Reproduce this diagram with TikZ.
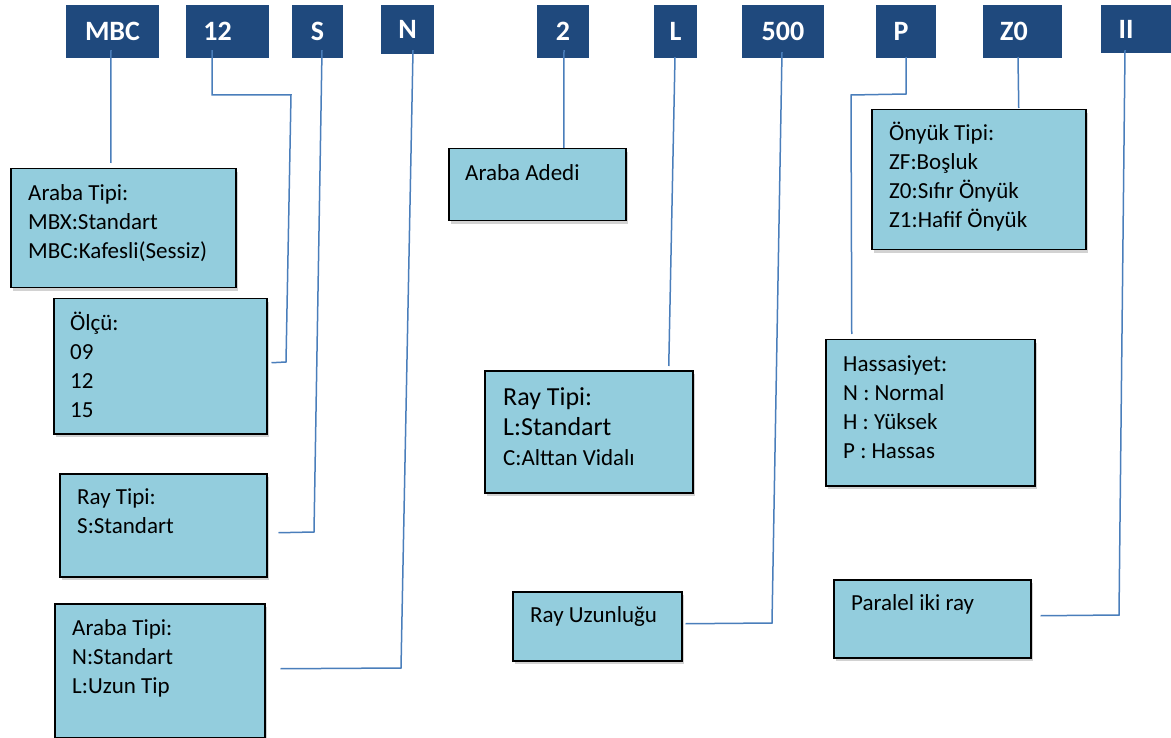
\documentclass[tikz,border=0pt]{standalone}
\usepackage{fontspec}
\setmainfont{Carlito}
\usetikzlibrary{shadows}

\definecolor{hdrblue}{RGB}{31,73,125}
\definecolor{boxblue}{RGB}{147,205,221}
\definecolor{wireblue}{RGB}{74,126,187}

\begin{document}
\begin{tikzpicture}[x=1pt,y=-1pt,
  hdr/.style={fill=hdrblue,text=white,font=\fontsize{28}{30}\selectfont\bfseries,minimum height=53pt,inner sep=0pt},
  infobox/.style={draw=black,line width=1.5pt,fill=boxblue,anchor=north west,inner sep=0pt,
    drop shadow={shadow xshift=2pt,shadow yshift=-3pt,opacity=0.35}},
  infotext/.style={anchor=base west,inner sep=0pt,text width=220pt,align=flush left,font=\fontsize{23}{29}\selectfont},
  wire/.style={draw=wireblue,line width=1.5pt}]
  \useasboundingbox[fill=white] (0,0) rectangle (1171,738);

  % code letters on top
  \node[hdr,minimum width=93] (hMBC) at (112.5,31.5) {MBC};
  \node[hdr,minimum width=83] (h12) at (227.5,31.5) {12\hspace*{20pt}};
  \node[hdr,minimum width=51] (hS) at (317.5,31.5) {S};
  \node[hdr,minimum width=53,minimum height=49] (hN) at (407.5,29.5) {N};
  \node[hdr,minimum width=52] (h2) at (563,31.5) {2};
  \node[hdr,minimum width=43] (hL) at (675.5,31.5) {L};
  \node[hdr,minimum width=82] (h500) at (783,31.5) {500};
  \node[hdr,minimum width=60] (hP) at (906,31.5) {P\hspace*{10pt}};
  \node[hdr,minimum width=79] (hZ0) at (1022.5,31.5) {Z0\hspace*{17pt}};
  \node[hdr,minimum width=70,minimum height=48] (hII) at (1136,29) {II\hspace*{20pt}};

  % explanation boxes
  \node[infobox,minimum width=225,minimum height=119] (bArabaA) at (10,168) {};
  \node[infotext] (tArabaA) at (28,200.5) {Araba Tipi:\\MBX:Standart\\MBC:Kafesli(Sessiz)};
  \node[infobox,minimum width=213,minimum height=135] (bOlcu) at (53,298) {};
  \node[infotext] (tOlcu) at (70,330.5) {Ölçü:\\09\\12\\15};
  \node[infobox,minimum width=207,minimum height=103] (bRayS) at (59,473) {};
  \node[infotext] (tRayS) at (77,504.5) {Ray Tipi:\\S:Standart};
  \node[infobox,minimum width=210,minimum height=134] (bArabaN) at (54,603) {};
  \node[infotext] (tArabaN) at (72,635.5) {Araba Tipi:\\N:Standart\\L:Uzun Tip};
  \node[infobox,minimum width=177,minimum height=72] (bAdet) at (448,148) {};
  \node[infotext] (tAdet) at (465,180.5) {Araba Adedi};
  \node[infobox,minimum width=208,minimum height=122] (bRayL) at (484,370) {};
  \node[infotext,font=\fontsize{26}{30}\selectfont] (tRayL) at (503,405.5)
    {Ray Tipi:\\L:Standart\\{\fontsize{23}{30}\selectfont C:Alttan Vidalı}};
  \node[infobox,minimum width=169,minimum height=69] (bRayU) at (512,591) {};
  \node[infotext] (tRayU) at (530,622.5) {Ray Uzunluğu};
  \node[infobox,minimum width=214,minimum height=140] (bOnyuk) at (871,109) {};
  \node[infotext] (tOnyuk) at (889,140.5) {Önyük Tipi:\\ZF:Boşluk\\Z0:Sıfır Önyük\\Z1:Hafif Önyük};
  \node[infobox,minimum width=209,minimum height=146] (bHass) at (825,339) {};
  \node[infotext] (tHass) at (843,371.5) {Hassasiyet:\\N : Normal\\H : Yüksek\\P : Hassas};
  \node[infobox,minimum width=197,minimum height=78] (bParalel) at (833,579) {};
  \node[infotext] (tParalel) at (851,610.5) {Paralel iki ray};

  % bends
  \coordinate (k12a) at (212,95);
  \coordinate (k12b) at (291,95);
  \coordinate (k12c) at (286,362);
  \coordinate (kS) at (314,532);
  \coordinate (kN) at (401,668);
  \coordinate (k500) at (772,623);
  \coordinate (kPa) at (906,94);
  \coordinate (kPb) at (851,95);
  \coordinate (kII) at (1119,615);

  % connectors
  \draw[wire] ([xshift=-1.5pt,yshift=8pt]hMBC.south) -- ([xshift=-12.5pt,yshift=5pt]bArabaA.north);
  \draw[wire] ([xshift=-15.5pt,yshift=8pt]h12.south) -- (k12a) -- (k12b) -- (k12c) -- ([xshift=4pt,yshift=3.5pt]bOlcu.east);
  \draw[wire] ([xshift=4.5pt,yshift=8pt]hS.south) -- (kS) -- ([xshift=11pt,yshift=-7.5pt]bRayS.east);
  \draw[wire] ([xshift=5.5pt,yshift=4pt]hN.south) -- (kN) -- ([xshift=15pt,yshift=2pt]bArabaN.east);
  \draw[wire] ([xshift=1pt,yshift=8pt]h2.south) -- ([xshift=26.5pt]bAdet.north);
  \draw[wire] ([xshift=-0.5pt,yshift=1pt]hL.south) -- ([xshift=80pt,yshift=4pt]bRayL.north);
  \draw[wire] ([xshift=-1pt,yshift=6pt]h500.south) -- (k500) -- ([xshift=3pt,yshift=2.5pt]bRayU.east);
  \draw[wire] ([yshift=1pt]hP.south) -- (kPa) -- (kPb) -- ([xshift=-78.5pt,yshift=5pt]bHass.north);
  \draw[wire] ([xshift=-4.5pt,yshift=1pt]hZ0.south) -- ([xshift=40pt,yshift=1pt]bOnyuk.north);
  \draw[wire] ([xshift=-11pt,yshift=3pt]hII.south) -- (kII) -- ([xshift=9pt,yshift=3pt]bParalel.east);
\end{tikzpicture}
\end{document}
